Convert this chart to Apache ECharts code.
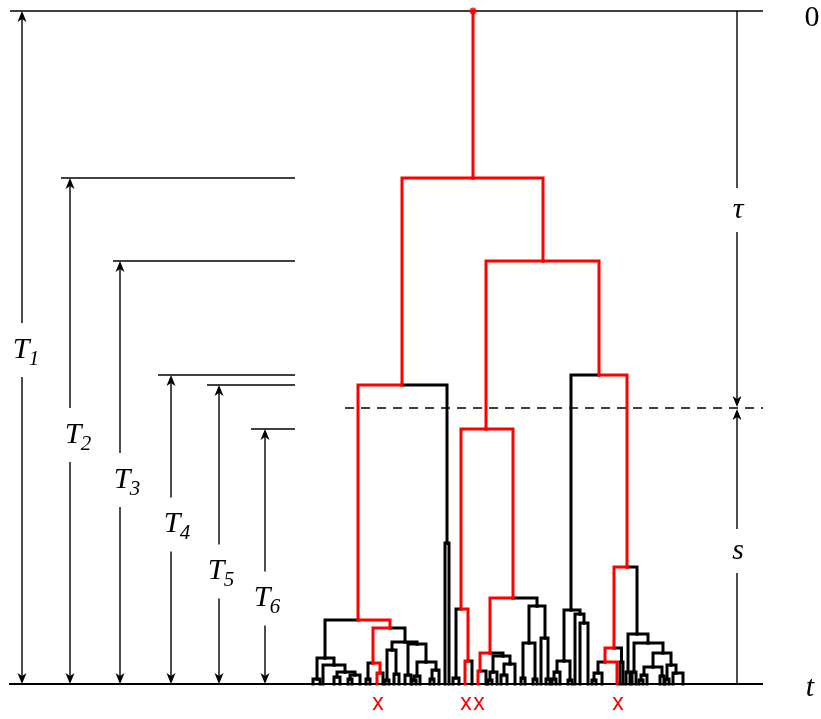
<!DOCTYPE html>
<html><head><meta charset="utf-8">
<script src="https://cdn.jsdelivr.net/npm/echarts@6/dist/echarts.min.js"></script>
<style>html,body{margin:0;padding:0;background:#fff}#c{width:821px;height:719px}</style>
</head><body><div id="c"></div>
<script>
// ---------- DATA: genealogical tree (x = leaf-order position, h = time before present) ----------
const nodeX = [473,473,402,543,358,447,445,449,486,599,
  571,627,461,513,325,390,317,313,320,334,
  323,345,337,334,340,355,350,360,373,405,
  368,380,377,383,392,387,396,394,399,417,
  408,405,411,426,417,414,420,436,432,439,
  456,453,459,468,465,472,490,480,478,486,
  503,493,490,497,510,504,501,507,515,537,
  529,523,535,545,541,548,564,557,554,560,
  570,580,575,584,580,588,614,605,598,594,
  602,617,621.5,620,623,637,628,626,630,648,
  634,632,636,663,653,644,641,647,662,660,
  664,671,667,676,673,683,
  366,370,385,389,430,434,488,492,521,525,
  533,537,552,556,568,572,592,596,665,669,
  348,352,412,416,546,550,639,643];
const nodeH = [67.3,50.6,29.9,42.3,6.4,14.1,0,0,25.5,30.9,
  7.4,11.7,7.5,8.6,2.6,5.6,0.5,0,0,1.9,
  0,1.2,0.7,0,0,0.9,0.5,0,2.1,4.2,
  0.5,1.1,0,0,3.4,0.4,1.0,0,0,4.0,
  0.9,0,0,2.2,0.8,0.4,0,1.4,0.5,0,
  0.6,0,0,2.3,0,0,3.1,1.3,0,0,
  2.8,1.2,0.4,0,2.0,0.9,0,0,0,7.8,
  4.1,0.6,0.5,4.6,0,0.5,2.3,1.2,0.5,0,
  0.4,7.0,0,6.1,0,0,3.6,2.2,1.1,0.4,
  0,0,2.2,0,0,5.0,1.2,0,0,4.1,
  1.2,0,0,3.1,1.7,0.9,0.4,0,0.8,0,
  0,1.9,0.5,1.1,0,0,
  0,0,0,0,0,0,0,0,0,0,
  0,0,0,0,0,0,0,0,0,0,
  0,0,0,0,0,0,0,0];
const nodeParent = [-1,0,1,1,2,2,5,5,3,3,
  9,9,8,8,4,4,14,16,16,14,
  19,19,21,22,22,21,25,25,15,15,
  28,28,31,31,29,34,34,36,36,29,
  39,40,40,39,43,44,44,43,47,47,
  12,50,50,12,53,53,13,56,57,57,
  56,60,61,61,60,64,65,65,64,13,
  69,70,70,69,73,73,10,76,77,77,
  76,10,81,81,83,83,11,86,87,88,
  88,87,86,92,92,11,95,96,96,95,
  99,100,100,99,103,104,105,105,104,108,
  108,103,111,111,113,113,
  30,30,35,35,48,48,62,62,71,71,
  72,72,78,78,80,80,89,89,112,112,
  26,26,45,45,75,75,106,106];
const nodeRed = [1,1,1,1,1,0,0,0,1,1,
  0,1,1,1,0,1,0,0,0,0,
  0,0,0,0,0,0,0,0,1,0,
  0,1,1,0,0,0,0,0,0,0,
  0,0,0,0,0,0,0,0,0,0,
  0,0,0,1,1,0,1,1,1,0,
  0,0,0,0,0,0,0,0,0,0,
  0,0,0,0,0,0,0,0,0,0,
  0,0,0,0,0,0,1,1,0,0,
  0,1,0,0,0,0,0,0,0,0,
  0,0,0,0,0,0,0,0,0,0,
  0,0,0,0,0,0,
  0,0,0,0,0,0,0,0,0,0,
  0,0,0,0,0,0,0,0,0,0,
  0,0,0,0,0,0,0,0];
const sampledLeaves = [32,54,58,91];      // leaves marked with x
const coalNodes = [0,1,3,9,2,8];          // nodes whose heights are T1..T6
const tSubs = ['1','2','3','4','5','6'];
const sBoundary = 27.6;                   // height of the dashed line (s / tau split)

// ---------- LAYOUT (axis units) ----------
const arrowX = [22,70,120,171,219,265];
const levelX0 = [10,61,113,158,207,251];
const levelX1 = [763,295,295,295,295,295];
const labelX = [21,73,122,172,216,262];
const labelH = [33.4,24.9,20.4,15.95,11.25,8.55];
const gapHalf = 2.7;
const rightX = 737, tauH = 47.4, sH = 13.3, rGap = 2.2;
const baseX0 = 9, baseX1 = 763, dashX0 = 345;

const SERIF = 'Liberation Serif';
const chart = echarts.init(document.getElementById('c'), null, {renderer:'canvas'});

function branchData(red) {
  const out = [];
  for (let i = 0; i < nodeX.length; i++) {
    const p = nodeParent[i];
    if (p < 0 || nodeRed[i] !== red) continue;
    out.push([nodeX[i], nodeH[i], nodeX[p], nodeH[p]]);
  }
  return out;
}
function branchSeries(red) {
  const color = red ? '#ff0000' : '#000000';
  return {
    type: 'custom', coordinateSystem: 'cartesian2d', z: red ? 4 : 3, silent: true,
    encode: {x: [0, 2], y: [1, 3]},
    data: branchData(red),
    renderItem(params, api) {
      const a = api.coord([api.value(0), api.value(1)]);
      const b = api.coord([api.value(0), api.value(3)]);
      const c = api.coord([api.value(2), api.value(3)]);
      return {type: 'polyline', shape: {points: [a, b, c]},
        style: {stroke: color, lineWidth: 3, fill: null, lineJoin: 'miter', lineCap: 'square'}};
    }
  };
}
function arrowHead(p, dir) { // dir -1: points up, +1: points down
  const L = 11, W = 4.5, N = 8;
  return {type: 'polygon', shape: {points: [[p[0], p[1]], [p[0] - W, p[1] - dir * L], [p[0], p[1] - dir * N], [p[0] + W, p[1] - dir * L]]},
    style: {fill: '#000'}};
}
function seg(p, q, extra) {
  return {type: 'line', shape: {x1: p[0], y1: p[1], x2: q[0], y2: q[1]},
    style: Object.assign({stroke: '#000', lineWidth: 1.4}, extra || {})};
}
function txt(p, s, size, italic, family, dx, dy, color) {
  return {type: 'text', style: {text: s, x: p[0] + (dx || 0), y: p[1] + (dy || 0),
    fontSize: size, fontStyle: italic ? 'italic' : 'normal', fontFamily: family,
    fill: color || '#000', align: 'center', verticalAlign: 'middle'}};
}

const annot = {
  type: 'custom', coordinateSystem: 'cartesian2d', z: 2, silent: true,
  data: [[0, 0]],
  renderItem(params, api) {
    const C = (x, h) => api.coord([x, h]);
    const ch = [];
    ch.push(seg(C(baseX0, 0), C(baseX1, 0), {lineWidth: 1.8}));
    for (let k = 0; k < coalNodes.length; k++) {
      const T = nodeH[coalNodes[k]];
      const x = arrowX[k];
      ch.push(seg(C(levelX0[k], T), C(levelX1[k], T), {lineWidth: 1.5}));
      const top = C(x, T), bot = C(x, 0);
      ch.push(seg([top[0], top[1] + 8], C(x, labelH[k] + gapHalf)));
      ch.push(seg(C(x, labelH[k] - gapHalf), [bot[0], bot[1] - 8]));
      ch.push(arrowHead(top, -1));
      ch.push(arrowHead(bot, 1));
      const lp = C(labelX[k], labelH[k]);
      ch.push(txt(lp, 'T', 30, true, SERIF));
      ch.push(txt(lp, tSubs[k], 21, true, SERIF, 13, 9));
    }
    // tau / s scale on the right
    const rTop = C(rightX, nodeH[0]), rMid = C(rightX, sBoundary), rBot = C(rightX, 0);
    ch.push(seg(rTop, C(rightX, tauH + rGap)));
    ch.push(seg(C(rightX, tauH - rGap), [rMid[0], rMid[1] - 6]));
    ch.push(seg([rMid[0], rMid[1] + 6], C(rightX, sH + rGap)));
    ch.push(seg(C(rightX, sH - rGap), rBot));
    ch.push(arrowHead([rMid[0], rMid[1] - 1], 1));
    ch.push(arrowHead([rMid[0], rMid[1] + 1], -1));
    ch.push(txt(C(rightX + 1, tauH), 'τ', 30, true, SERIF));
    ch.push(txt(C(rightX + 1, sH), 's', 30, true, SERIF));
    // dashed present/past boundary
    ch.push(seg(C(dashX0, sBoundary), C(baseX1, sBoundary), {lineWidth: 1.4, lineDash: [9, 7]}));
    // axis end labels
    ch.push(txt(C(812, nodeH[0]), '0', 30, false, SERIF, 0, 7));
    ch.push(txt(C(810, 0), 't', 30, true, SERIF, 0, 4));
    // sample marks
    for (const li of sampledLeaves) {
      ch.push(txt(C(nodeX[li] + 1, 0), 'x', 23, false, 'Liberation Sans', 0, 20, '#ff0000'));
    }
    return {type: 'group', children: ch};
  }
};

chart.setOption({
  animation: false,
  backgroundColor: '#fff',
  grid: {left: 0, right: 0, top: 11, bottom: 0},
  xAxis: {type: 'value', min: 0, max: 821, show: false},
  yAxis: {type: 'value', min: -3.5, max: 67.3, show: false},
  series: [
    annot,
    branchSeries(0),
    branchSeries(1),
    {type: 'scatter', z: 5, silent: true, symbol: 'circle', symbolSize: 7,
      itemStyle: {color: '#ff0000'}, data: [[nodeX[0], nodeH[0]]]}
  ]
});
</script></body></html>
